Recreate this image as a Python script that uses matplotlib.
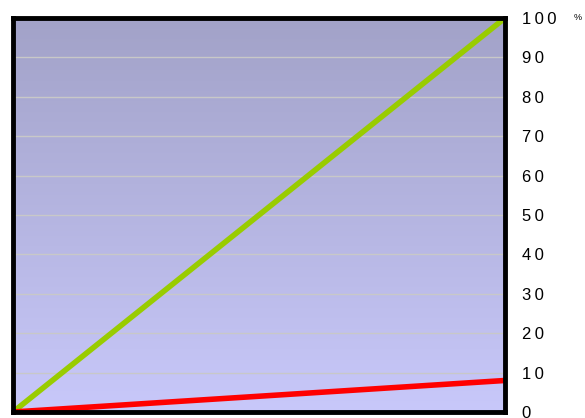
import numpy as np
import matplotlib
matplotlib.use("Agg")
import matplotlib.pyplot as plt
from matplotlib.colors import LinearSegmentedColormap

x_points = [0, 1]
green_values = [0, 100]
red_values = [0, 8]
y_ticks = [0, 10, 20, 30, 40, 50, 60, 70, 80, 90, 100]

fig = plt.figure(figsize=(5.85, 4.18), dpi=100)
ax = fig.add_axes([13 / 585, 6 / 418, (505 - 13) / 585, (412 - 18) / 418])

# vertical background gradient
cmap = LinearSegmentedColormap.from_list("bg", ["#C8C8FA", "#A2A2C8"])
grad = np.linspace(0, 1, 256).reshape(-1, 1)
ax.imshow(grad, cmap=cmap, aspect="auto", origin="lower",
          extent=[0, 1, 0, 100], zorder=0)

for t in y_ticks[1:-1]:
    ax.axhline(t, color="#C8C8C8", lw=1, zorder=1)

ax.plot(x_points, green_values, color="#99CC00", lw=4, solid_capstyle="round", zorder=3)
ax.plot(x_points, red_values, color="#FF0000", lw=4, solid_capstyle="round", zorder=3)

ax.set_xlim(0, 1)
ax.set_ylim(0, 100)
ax.set_xticks([])
ax.yaxis.tick_right()
ax.set_yticks(y_ticks)
# spaced-out digits
ax.set_yticklabels(["\u2009".join(str(v)) for v in y_ticks], fontsize=12,
                   family="Liberation Sans")
ax.tick_params(axis="y", length=0, pad=12)
for s in ax.spines.values():
    s.set_linewidth(3.5)
    s.set_color("black")
    s.set_zorder(4)

fig.text(578 / 585, 1 - 18 / 418, "%", fontsize=6.5, family="Liberation Sans",
         ha="center", va="center")

fig.savefig("out.png", dpi=100)
